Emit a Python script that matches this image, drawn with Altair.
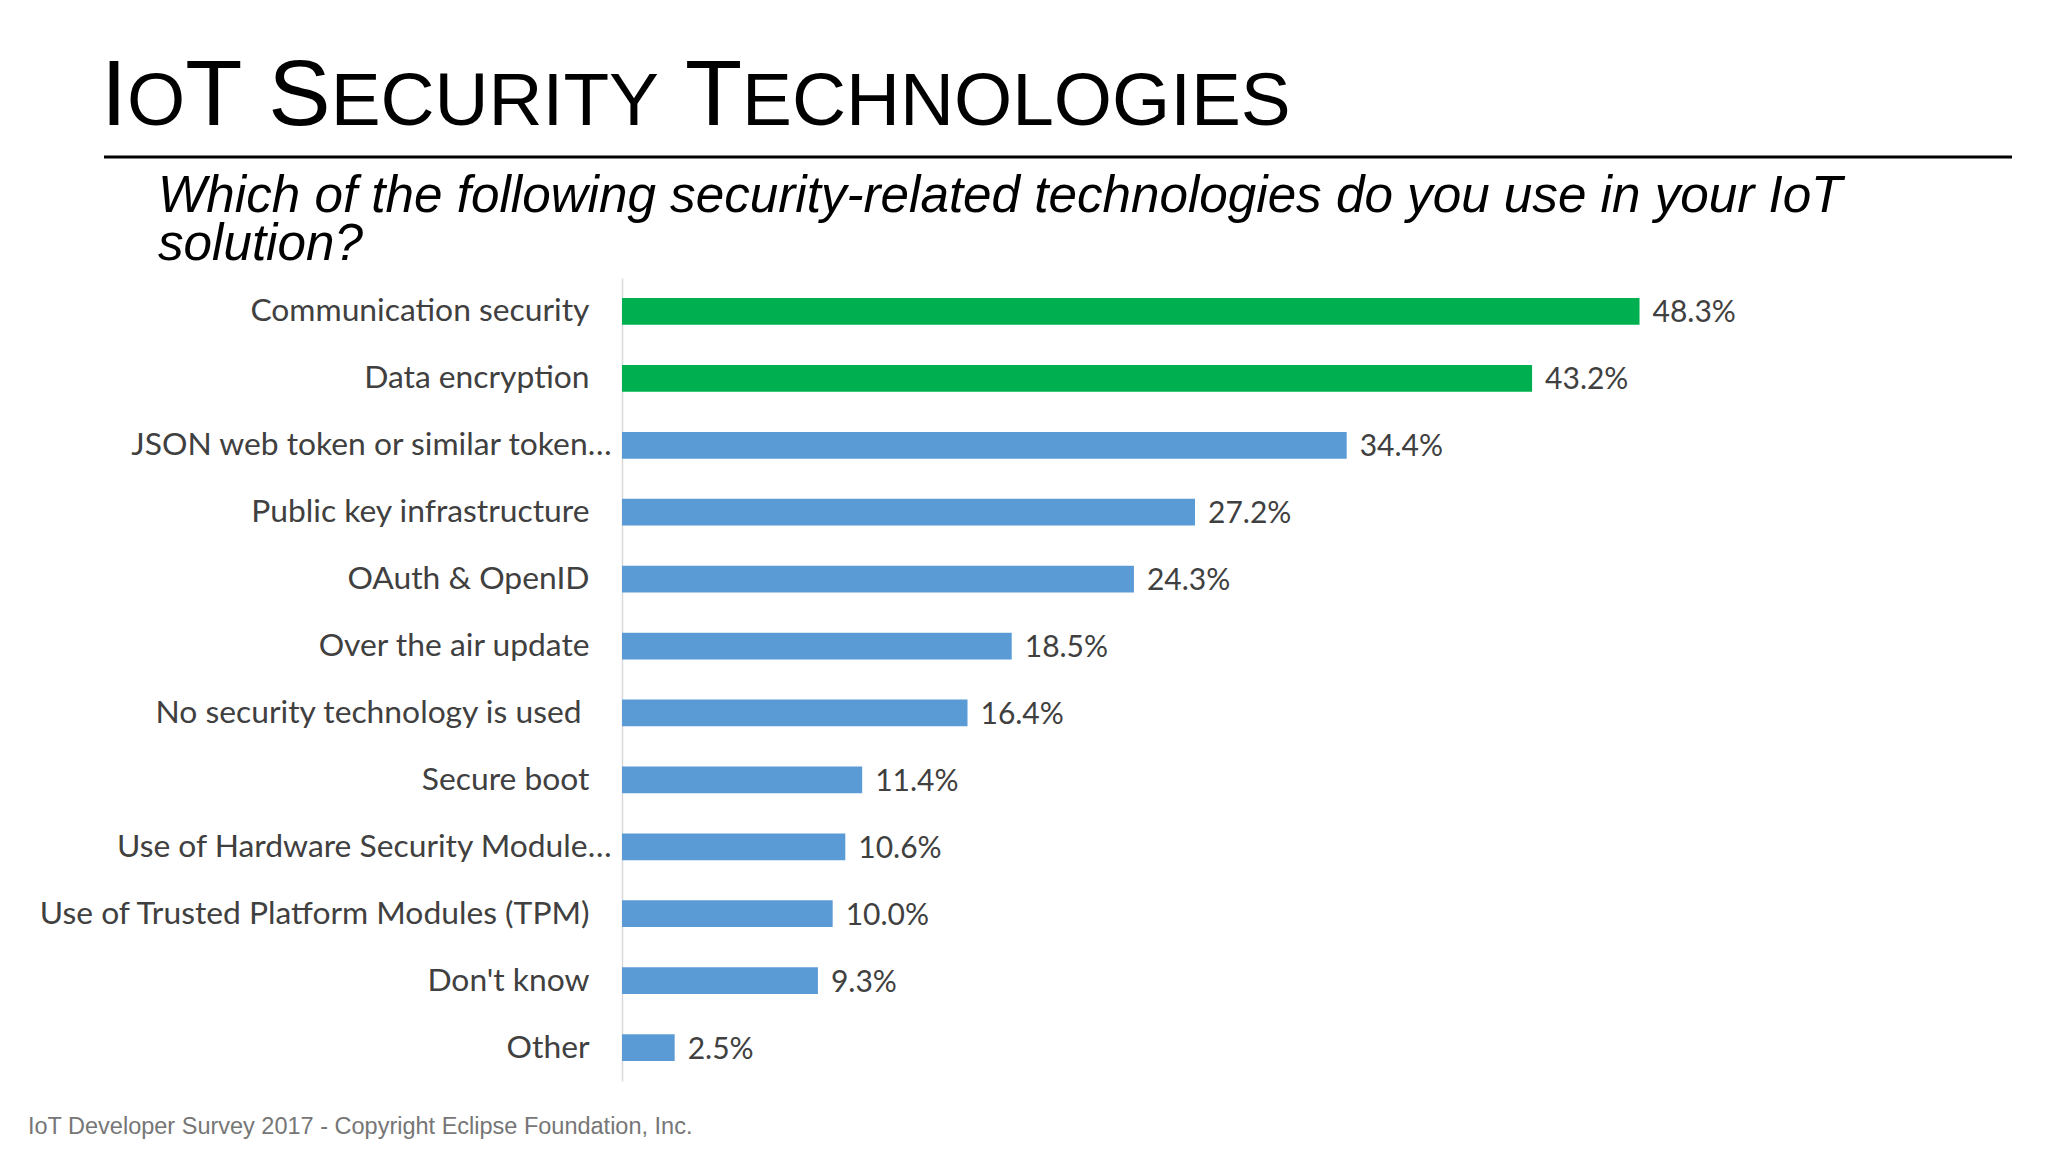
import altair as alt
import pandas as pd

# ---------------- data ----------------
categories = [
    "Communication security",
    "Data encryption",
    "JSON web token or similar token…",
    "Public key infrastructure",
    "OAuth & OpenID",
    "Over the air update",
    "No security technology is used ",
    "Secure boot",
    "Use of Hardware Security Module…",
    "Use of Trusted Platform Modules (TPM)",
    "Don't know",
    "Other",
]
values = [48.3, 43.2, 34.4, 27.2, 24.3, 18.5, 16.4, 11.4, 10.6, 10.0, 9.3, 2.5]
highlight = ["yes", "yes", "no", "no", "no", "no", "no", "no", "no", "no", "no", "no"]

title_text = "IoT Security Technologies"
subtitle_lines = [
    "Which of the following security-related technologies do you use in your IoT",
    "solution?",
]
footer_text = "IoT Developer Survey 2017 - Copyright Eclipse Foundation, Inc."

df = pd.DataFrame({
    "category": categories,
    "value": values,
    "highlight": highlight,
    "label": [f"{v:.1f}%" for v in values],
})

# ---------------- layout ----------------
W, H = 1264, 803
PAD_L, PAD_T, PAD_R, PAD_B = 614, 270, 140, 60
LABEL_FONT = "Lato"
CAT_SIZE = 31.8
VAL_SIZE = 30
TEXT_COLOR = "#404040"

x_enc = alt.X("value:Q", scale=alt.Scale(domain=[0, 60], nice=False, zero=True), axis=None)
y_enc = alt.Y(
    "category:N",
    sort=categories,
    scale=alt.Scale(paddingInner=0.6, paddingOuter=0.3),
    axis=alt.Axis(
        title=None,
        ticks=False,
        tickSize=0,
        grid=False,
        domainColor="#D9D9D9",
        domainWidth=1.5,
        labelFont=LABEL_FONT,
        labelFontSize=CAT_SIZE,
        labelColor=TEXT_COLOR,
        labelLimit=700,
        labelPadding={
            "condition": [
                {"test": "indexof(datum.label, '…') >= 0", "value": 11},
                {"test": "substring(datum.label, length(datum.label) - 1) == ' '", "value": 41},
            ],
            "value": 33,
        },
    ),
)

bars = alt.Chart(df).mark_bar().encode(
    x=x_enc,
    y=y_enc,
    color=alt.Color(
        "highlight:N",
        scale=alt.Scale(domain=["yes", "no"], range=["#00B050", "#5B9BD5"]),
        legend=None,
    ),
)

value_text = alt.Chart(df).mark_text(
    align="left", baseline="middle", dx=13, dy=2,
    font=LABEL_FONT, fontSize=VAL_SIZE, color=TEXT_COLOR,
).encode(x=x_enc, y=y_enc, text="label:N")

# ---------------- title in small caps ----------------
ARIAL = {"I": 278, "O": 778, "T": 611, " ": 278, "S": 667, "E": 667, "C": 722,
         "U": 722, "R": 722, "Y": 667, "H": 722, "N": 722, "L": 556, "G": 778}
BIG, SMALL = 93.5, 74.8
TITLE_X0, TITLE_Y = -521, -153

runs = []  # [text, size, x]
cursor = TITLE_X0
prev_size = None
for ch in title_text:
    size = SMALL if ch.islower() else BIG
    c = ch.upper()
    if ch == " ":
        prev_size = None
    else:
        if runs and prev_size == size:
            runs[-1][0] += c
        else:
            runs.append([c, size, cursor])
        prev_size = size
    cursor += ARIAL.get(c, 600) * size / 1000.0

one = pd.DataFrame({"k": [0]})
title_layers = [
    alt.Chart(one).mark_text(
        text=t, fontSize=s, font="Liberation Sans", color="#000000",
        align="left", baseline="alphabetic",
    ).encode(x=alt.value(xp), y=alt.value(TITLE_Y))
    for t, s, xp in runs
]

rule = alt.Chart(one).mark_rule(color="#000000", strokeWidth=3).encode(
    x=alt.value(-518), x2=alt.value(1390), y=alt.value(-121)
)

subtitle = alt.Chart(one).mark_text(
    text=subtitle_lines, font="Liberation Sans", fontStyle="italic", fontSize=51.2,
    lineHeight=48, color="#000000", align="left", baseline="alphabetic",
).encode(x=alt.value(-464), y=alt.value(-66))

footer = alt.Chart(one).mark_text(
    text=footer_text, font="Liberation Sans", fontSize=23.5, color="#767676",
    align="left", baseline="alphabetic",
).encode(x=alt.value(-594), y=alt.value(856))

chart = alt.layer(bars, value_text, rule, subtitle, footer, *title_layers).properties(
    width=W,
    height=H,
    padding={"left": PAD_L, "top": PAD_T, "right": PAD_R, "bottom": PAD_B},
    autosize=alt.AutoSizeParams(type="none"),
    background="#FFFFFF",
).configure_view(stroke=None)

chart.save("out.html", embed_options={"renderer": "svg", "actions": False})
